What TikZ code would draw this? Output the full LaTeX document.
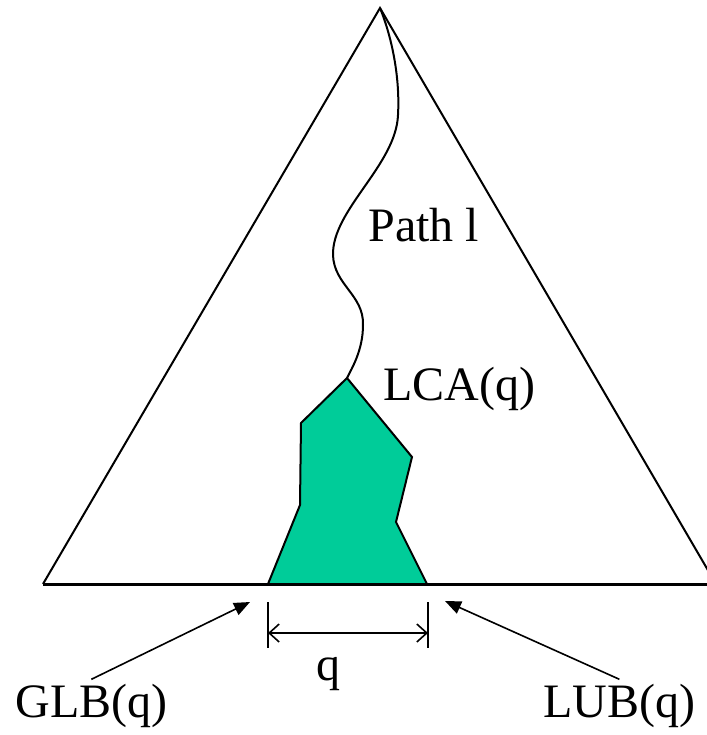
\documentclass[tikz,border=0pt]{standalone}
\usepackage{fontspec}
\setmainfont{Liberation Serif}
\usetikzlibrary{arrows.meta}
\definecolor{subtree}{RGB}{0,204,153}
\tikzset{
  tag/.style={font=\fontsize{24}{28}\selectfont, inner sep=0pt},
  pointer/.style={-{Triangle[length=8pt,width=6.5pt]}, line width=0.8pt},
  dimline/.style={{Straight Barb[length=5pt,width=9pt]}-{Straight Barb[length=5pt,width=9pt]}, line width=0.8pt}
}
\begin{document}
\begin{tikzpicture}[x=0.5pt,y=-0.5pt,line join=miter]
  \useasboundingbox (0,0) rectangle (707,735);
  % tree outline
  \coordinate (apex) at (380,8);
  \coordinate (BL) at (43,584); \coordinate (BR) at (716,584);
  \draw[line width=1pt] (BL)--(apex)--(BR);
  \draw[line width=1.5pt] (BL)--(BR);

  % subtree under LCA(q)
  \coordinate (lca) at (347,378);
  \coordinate (qL) at (268,584); \coordinate (qR) at (427,584);
  \filldraw[fill=subtree, line width=1pt]
    (lca)--(301,423)--(300,505)--(qL)--(qR)--(396,522)--(412,457)--cycle;

  % path from the root to LCA(q)
  \draw[line width=1pt] (apex) .. controls (393,40) and (400,80) .. (398,115)
    .. controls (396,165) and (332,210) .. (333,255)
    .. controls (334,285) and (364,295) .. (363,325)
    .. controls (363,350) and (352,368) .. (lca);

  \node[tag, anchor=base west] (path) at (368,241) {Path l};
  \node[tag, anchor=base west] (lcaname) at (383,400) {LCA(q)};

  % width of the query range
  \coordinate (tickLa) at (268,602); \coordinate (tickLb) at (268,648);
  \coordinate (tickRa) at (428,602); \coordinate (tickRb) at (428,648);
  \draw[line width=1pt] (tickLa)--(tickLb) (tickRa)--(tickRb);
  \coordinate (dimL) at (268,633); \coordinate (dimR) at (428,633);
  \draw[dimline] (dimL)--(dimR);
  \node[tag, anchor=base] (qname) at (328,680) {q};

  % bounds
  \node[tag, anchor=base west] (glb) at (15,717) {GLB(q)};
  \node[tag, anchor=base west] (lub) at (543,717) {LUB(q)};
  \coordinate (glbtip) at (250,602);
  \coordinate (lubtip) at (445,601);
  \draw[pointer] ([yshift=2pt]glb.north) -- (glbtip);
  \draw[pointer] ([yshift=2pt]lub.north) -- (lubtip);
\end{tikzpicture}
\end{document}
